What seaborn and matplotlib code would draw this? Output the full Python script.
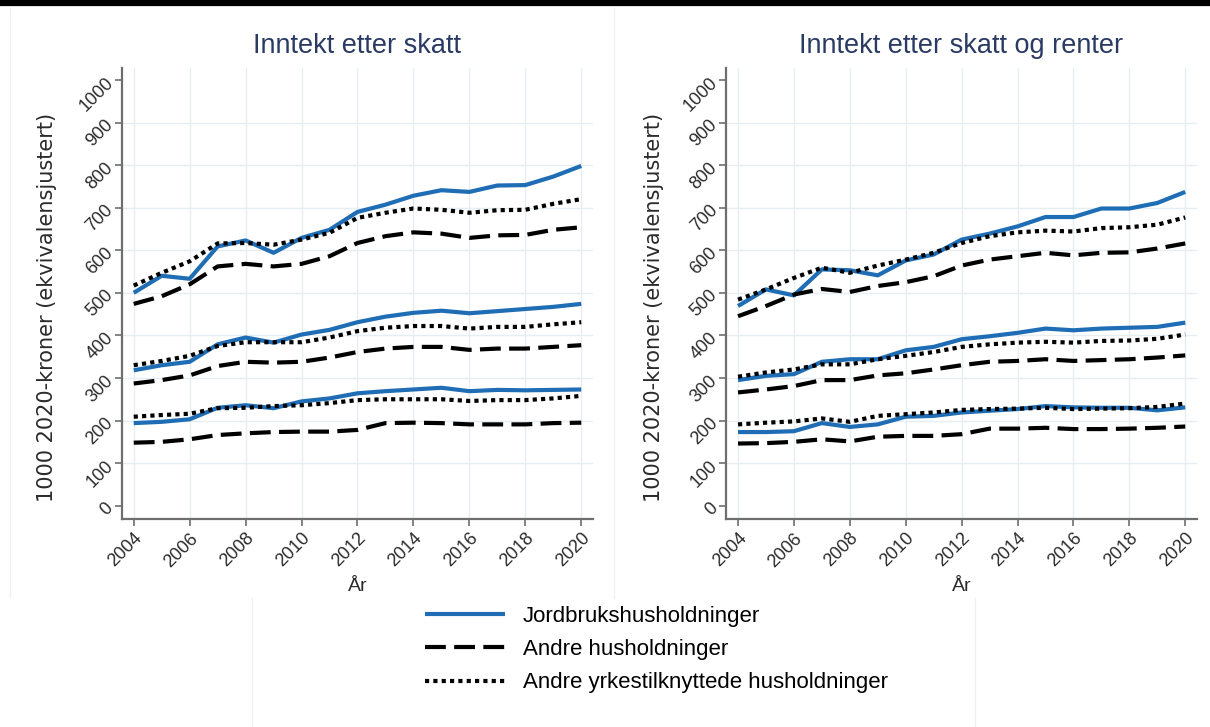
import numpy as np
import pandas as pd
import seaborn as sns
import matplotlib
matplotlib.use("Agg")
import matplotlib.pyplot as plt
from matplotlib.lines import Line2D

years = list(range(2004, 2021))

# Inntekt etter skatt
skatt_jord_hoy = [500, 540, 533, 609, 623, 594, 629, 648, 690, 707, 728, 741, 737, 752, 753, 773, 798]
skatt_yrke_hoy = [517, 547, 574, 616, 617, 613, 625, 641, 676, 688, 698, 695, 688, 694, 695, 709, 720]
skatt_andre_hoy = [474, 492, 520, 562, 568, 562, 568, 586, 617, 633, 642, 639, 629, 635, 636, 648, 654]
skatt_jord_mid = [318, 330, 338, 379, 395, 383, 402, 413, 431, 444, 453, 458, 452, 457, 462, 467, 474]
skatt_yrke_mid = [330, 340, 352, 375, 384, 384, 384, 395, 410, 418, 422, 422, 416, 420, 420, 426, 431]
skatt_andre_mid = [287, 295, 306, 328, 338, 336, 338, 348, 361, 369, 373, 373, 366, 369, 369, 373, 377]
skatt_jord_lav = [194, 197, 203, 230, 236, 229, 245, 252, 264, 269, 273, 277, 269, 272, 271, 272, 273]
skatt_yrke_lav = [209, 213, 216, 229, 230, 234, 236, 241, 248, 250, 250, 250, 246, 248, 248, 252, 258]
skatt_andre_lav = [148, 150, 156, 166, 170, 173, 174, 174, 178, 194, 195, 194, 191, 191, 191, 194, 195]

# Inntekt etter skatt og renter
renter_jord_hoy = [469, 508, 494, 555, 553, 541, 576, 590, 625, 639, 656, 678, 678, 698, 698, 711, 737]
renter_yrke_hoy = [484, 508, 535, 559, 547, 564, 578, 594, 617, 633, 642, 646, 644, 652, 654, 660, 677]
renter_andre_hoy = [445, 469, 496, 509, 502, 516, 525, 539, 564, 578, 586, 594, 588, 594, 595, 604, 616]
renter_jord_mid = [295, 305, 309, 338, 344, 344, 365, 373, 391, 398, 406, 416, 412, 416, 418, 420, 430]
renter_yrke_mid = [303, 313, 320, 332, 332, 344, 352, 361, 373, 379, 383, 385, 383, 387, 388, 392, 402]
renter_andre_mid = [266, 273, 281, 295, 295, 306, 311, 320, 330, 338, 340, 344, 340, 342, 344, 348, 353]
renter_jord_lav = [173, 173, 175, 194, 185, 191, 209, 211, 219, 223, 227, 234, 231, 230, 230, 224, 231]
renter_yrke_lav = [191, 195, 198, 205, 197, 211, 215, 219, 225, 227, 228, 230, 227, 228, 229, 232, 240]
renter_andre_lav = [146, 147, 150, 156, 151, 162, 164, 164, 168, 181, 181, 183, 180, 180, 181, 183, 186]

titles = ["Inntekt etter skatt", "Inntekt etter skatt og renter"]
groups = ["Jordbrukshusholdninger", "Andre husholdninger", "Andre yrkestilknyttede husholdninger"]
y_ticks = list(range(0, 1001, 100))
x_ticks = list(range(2004, 2021, 2))
y_label = "1000 2020-kroner (ekvivalensjustert)"
x_label = "År"

panels = [
    {
        groups[0]: [skatt_jord_hoy, skatt_jord_mid, skatt_jord_lav],
        groups[1]: [skatt_andre_hoy, skatt_andre_mid, skatt_andre_lav],
        groups[2]: [skatt_yrke_hoy, skatt_yrke_mid, skatt_yrke_lav],
    },
    {
        groups[0]: [renter_jord_hoy, renter_jord_mid, renter_jord_lav],
        groups[1]: [renter_andre_hoy, renter_andre_mid, renter_andre_lav],
        groups[2]: [renter_yrke_hoy, renter_yrke_mid, renter_yrke_lav],
    },
]

sns.set_theme(style="white")
plt.rcParams["font.family"] = ["Liberation Sans", "DejaVu Sans"]

styles = {
    groups[0]: dict(color="#1f6db5", dashes=None),
    groups[1]: dict(color="black", dashes=(5, 2)),
    groups[2]: dict(color="black", dashes=(1, 1)),
}
LW = 3.0
TEXT = "#2b2b2b"
AXIS = "#6e6e6e"

fig = plt.figure(figsize=(12.10, 7.27), dpi=100)
fig.patch.set_facecolor("white")

AX_TOP, AX_BOT = 68.0, 518.7
axes_px = [(121.7, 593.0), (726.0, 1197.0)]
ylabel_x = [57.0, 664.0]

for (x0, x1), ylx, title, data in zip(axes_px, ylabel_x, titles, panels):
    ax = fig.add_axes([x0 / 1210, 1 - AX_BOT / 727, (x1 - x0) / 1210, (AX_BOT - AX_TOP) / 727])
    w_px, h_px = x1 - x0, AX_BOT - AX_TOP
    for g in groups:
        st = styles[g]
        for vals in data[g]:
            df = pd.DataFrame({"år": years, "verdi": vals})
            sns.lineplot(data=df, x="år", y="verdi", ax=ax, color=st["color"],
                         linewidth=LW, legend=False, zorder=3)
            line = ax.get_lines()[-1]
            if st["dashes"] is not None:
                line.set_dashes(st["dashes"])
                line.set_dash_capstyle("butt")
            line.set_solid_capstyle("butt")

    ax.set_xlim(2003.57, 2020.42)
    ax.set_ylim(-30.5, 1028)
    ax.set_xticks(x_ticks)
    ax.set_yticks(y_ticks)
    ax.set_xticklabels([str(t) for t in x_ticks], rotation=45, ha="right",
                       va="top", rotation_mode="anchor", fontsize=13, color=TEXT)
    ax.set_yticklabels([str(t) for t in y_ticks], rotation=45, ha="right",
                       va="center", rotation_mode="anchor", fontsize=13, color=TEXT)
    ax.tick_params(axis="both", length=5, width=1.2, color=AXIS, pad=3,
                   bottom=True, left=True)

    # light grid: every labelled year, inner hundreds
    for t in x_ticks:
        ax.axvline(t, color="#e6eef2", lw=1.0, zorder=1)
    for t in y_ticks[1:-1]:
        ax.axhline(t, color="#e6eef2", lw=1.0, zorder=1)
    ax.grid(False)

    for side in ["top", "right"]:
        ax.spines[side].set_visible(False)
    for side in ["left", "bottom"]:
        ax.spines[side].set_color(AXIS)
        ax.spines[side].set_linewidth(1.6)

    ax.set_title(title, fontsize=19.5, color="#2a3a63", pad=0,
                 y=(AX_BOT - 46) / h_px, va="center")
    ax.set_xlabel(x_label, fontsize=14, color=TEXT)
    ax.xaxis.set_label_coords(0.5, (AX_BOT - 578) / h_px)
    ax.set_ylabel(y_label, fontsize=15, color=TEXT, family=["DejaVu Sans"])
    ax.yaxis.set_label_coords((ylx - x0) / w_px, (AX_BOT - 307) / h_px)

# legend shared by both panels
handles = []
for g in groups:
    st = styles[g]
    h = Line2D([0], [0], color=st["color"], lw=LW, solid_capstyle="butt",
               dash_capstyle="butt")
    if st["dashes"] is not None:
        h.set_dashes(st["dashes"])
    handles.append(h)
fig.legend(handles, groups, loc="upper left", bbox_to_anchor=(405 / 1210, 1 - 586 / 727),
           frameon=False, fontsize=16, handlelength=3.6, handletextpad=0.8,
           labelspacing=0.55, labelcolor="black")

# graph region framing
fig.add_artist(Line2D([0, 1], [1 - 2.5 / 727] * 2, color="black", lw=4.5,
                      transform=fig.transFigure))
for x in [10 / 1210, 614 / 1210]:
    fig.add_artist(Line2D([x, x], [1 - 598 / 727, 1 - 8 / 727], color="#f0f0f0",
                          lw=1, transform=fig.transFigure))
for x in [252 / 1210, 975 / 1210]:
    fig.add_artist(Line2D([x, x], [0, 1 - 598 / 727], color="#f0f0f0",
                          lw=1, transform=fig.transFigure))

fig.savefig("out.png", dpi=100, facecolor="white")
